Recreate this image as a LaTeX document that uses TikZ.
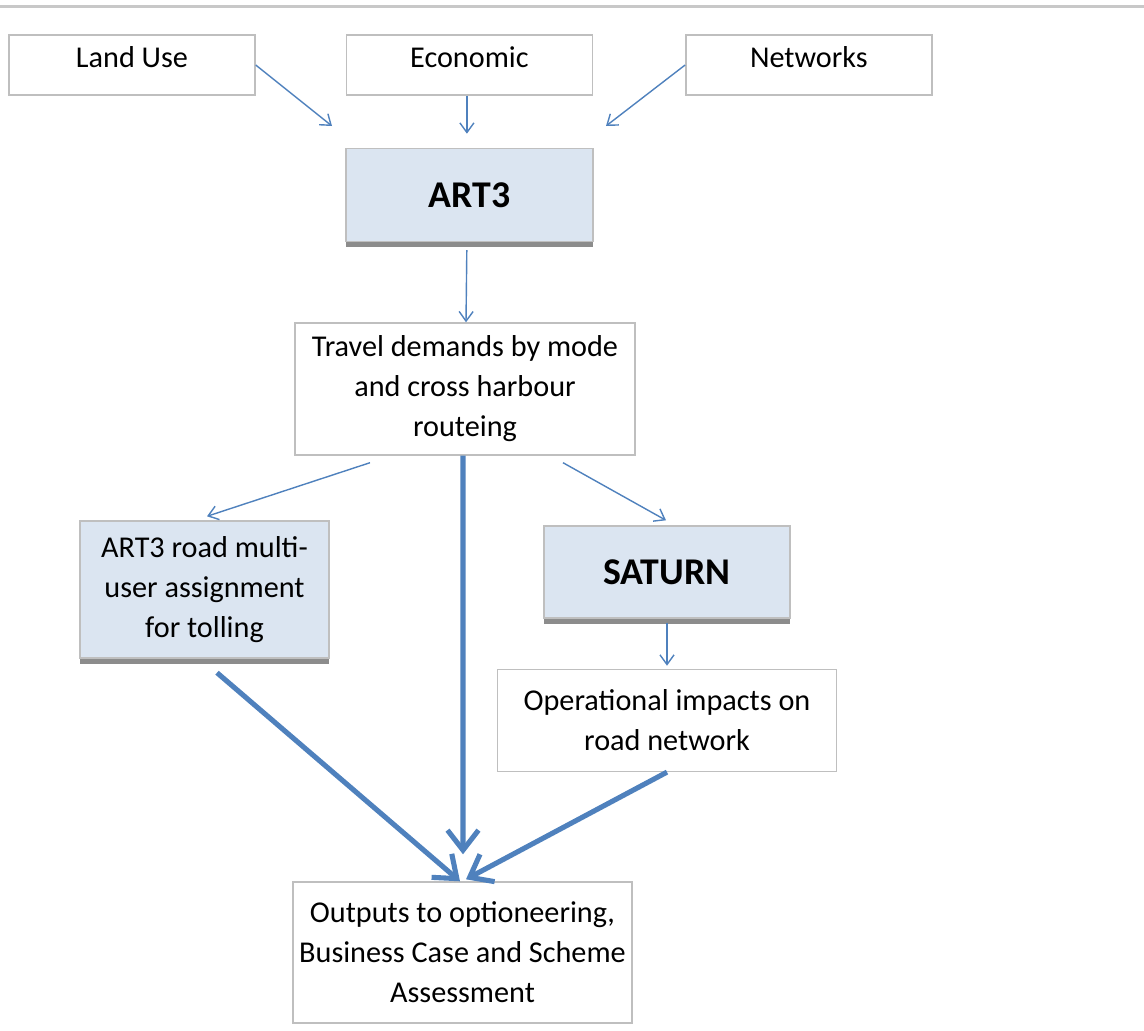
\documentclass[tikz,border=0pt]{standalone}
\usepackage{fontspec}
\setmainfont{Carlito}
\usepackage{tikz}
\usepackage{xcolor}
\usetikzlibrary{arrows.meta,positioning,shadows}
\definecolor{softblue}{RGB}{219,229,241}
\definecolor{boxgray}{RGB}{191,191,191}
\definecolor{arrowblue}{RGB}{79,129,189}
\definecolor{shadowgray}{RGB}{140,140,140}
\definecolor{rulegray}{RGB}{200,200,200}

\begin{document}
\begin{tikzpicture}[
    box/.style={draw=boxgray, line width=0.8pt, fill=white, align=center, inner sep=0pt, font=\fontsize{17.2}{22.8}\selectfont},
    inputbox/.style={box, minimum width=4.92cm, minimum height=1.2cm, text height=12pt, text depth=9pt},
    modelbox/.style={box, fill=softblue, drop shadow={shadow xshift=0pt, shadow yshift=-0.11cm, fill=shadowgray, opacity=1}},
    bigname/.style={font=\fontsize{21.5}{26}\selectfont\bfseries},
    feed/.style={arrowblue, line width=0.8pt, -{Straight Barb[length=5.5pt,width=8pt]}},
    flow/.style={arrowblue, line width=2.9pt, -{Straight Barb[length=0.4cm,width=0.62cm]}}
  ]
      \useasboundingbox (0,0) rectangle (22.88,-20.6);
      \draw[rulegray, line width=1.2pt] (0,-0.13) -- (22.88,-0.13);

      % inputs
      \node[inputbox] (landuse) at (2.64,-1.30) {Land Use};
      \node[inputbox, right=1.8cm of landuse] (economic) {Economic};
      \node[inputbox, right=1.84cm of economic] (networks) {Networks};

      % models and outputs
      \node[modelbox, bigname, below=1.04cm of economic, minimum width=4.94cm, minimum height=1.86cm] (art3) {ART3};
      \node[box, minimum width=6.8cm, minimum height=2.64cm] (travel) at (9.30,-7.78) {Travel demands by mode\\and cross harbour\\routeing};
      \node[modelbox, minimum width=4.98cm, minimum height=2.74cm] (artroad) at (4.09,-11.79) {ART3 road multi-\\user assignment\\for tolling};
      \node[modelbox, bigname, minimum width=4.92cm, minimum height=1.84cm] (saturn) at (13.34,-11.44) {SATURN};
      \node[box, below=1.0cm of saturn, minimum width=6.78cm, minimum height=2.04cm] (oper) {Operational impacts on\\road network};
      \node[box, minimum width=6.78cm, minimum height=2.82cm] (outputs) at (9.25,-19.05) {Outputs to optioneering,\\Business Case and Scheme\\Assessment};

      \coordinate (luend) at (6.64,-2.52);
      \coordinate (nwend) at (12.12,-2.52);

      \draw[feed] (landuse.east) -- (luend);
      \draw[feed] ([xshift=-0.05cm]economic.south) -- ([xshift=-0.05cm,yshift=0.28cm]art3.north);
      \draw[feed] (networks.west) -- (nwend);
      \draw[feed, shorten <=0.16cm] ([xshift=-0.05cm]art3.south) -- ([xshift=0.02cm]travel.north);
      \draw[feed] ([xshift=-1.9cm,yshift=-0.14cm]travel.south) -- ([xshift=0.05cm,yshift=0.08cm]artroad.north);
      \draw[feed] ([xshift=1.96cm,yshift=-0.14cm]travel.south) -- ([xshift=-0.02cm,yshift=0.1cm]saturn.north);
      \draw[feed, shorten <=0.08cm, shorten >=0.06cm] (saturn.south) -- (saturn.south |- oper.north);

      \draw[flow] ([xshift=0.25cm,yshift=-0.28cm]artroad.south) -- ([xshift=-0.05cm]outputs.north);
      \draw[flow] ([xshift=-0.04cm]travel.south) -- ([xshift=0.01cm,yshift=0.54cm]outputs.north);
      \draw[flow] (oper.south) -- ([xshift=0.07cm,yshift=0.04cm]outputs.north);
    \end{tikzpicture}
\end{document}
